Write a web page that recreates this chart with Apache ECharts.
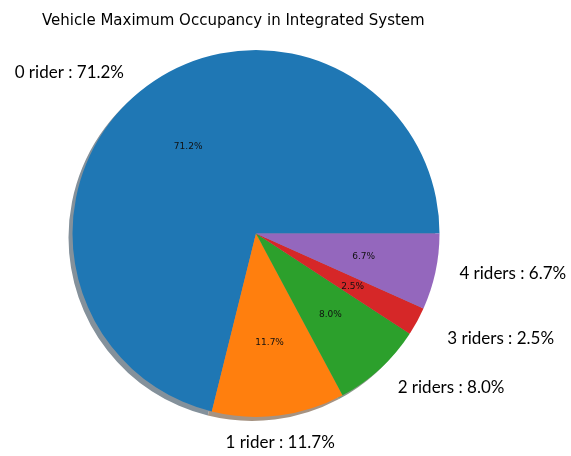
<!DOCTYPE html>
<html><head><meta charset="utf-8">
<script src="https://cdn.jsdelivr.net/npm/echarts@6/dist/echarts.min.js"></script>
<style>html,body{margin:0;padding:0;background:#fff}#c{width:571px;height:456px}</style>
</head><body><div id="c"></div>
<script>
const categories = ['0 rider', '1 rider', '2 riders', '3 riders', '4 riders'];
const values = [71.2, 11.7, 8.0, 2.5, 6.7];
const colors = ['#1f77b4', '#ff7f0e', '#2ca02c', '#d62728', '#9467bd'];
const titleText = 'Vehicle Maximum Occupancy in Integrated System';

// layout (not data): pie geometry and small text nudges
const CX = 256, CY = 233.5, R = 183.5, SH = 4;
const nudge = [[-2, 5], [-2, 0], [-1, -1], [6, 4], [-3, -4]];

const total = values.reduce((a, b) => a + b, 0);
const mids = []; let acc = 0;
values.forEach(v => { mids.push((acc + v / 2) / total * 2 * Math.PI); acc += v; });
function shade(hex) {
  const n = parseInt(hex.slice(1), 16);
  const rgb = [n >> 16, (n >> 8) & 255, n & 255].map(c => Math.round(0.5 * 0.3 * c + 0.5 * 255));
  return 'rgb(' + rgb.join(',') + ')';
}
const data = categories.map((c, i) => ({ name: c, value: values[i], itemStyle: { color: colors[i] } }));
const shadowData = categories.map((c, i) => ({ name: c, value: values[i], itemStyle: { color: shade(colors[i]) } }));
const common = { type: 'pie', radius: R, startAngle: 0, clockwise: false, silent: true,
  avoidLabelOverlap: false, labelLine: { show: false }, emphasis: { disabled: true } };

const chart = echarts.init(document.getElementById('c'), null, { renderer: 'canvas' });
chart.setOption({
  animation: false,
  title: { text: titleText, left: 37, top: 9,
    textStyle: { fontFamily: 'DejaVu Sans', fontSize: 15, fontWeight: 'normal', color: '#000' } },
  series: [
    Object.assign({}, common, { center: [CX - SH, CY + SH], data: shadowData, label: { show: false },
      itemStyle: { borderWidth: 0 } }),
    Object.assign({}, common, { center: [CX, CY], data: data, itemStyle: { borderWidth: 0 },
      label: { show: true, position: 'outside', color: '#000', fontFamily: 'Lato', fontSize: 17,
        formatter: p => p.name + ' : ' + p.value.toFixed(1) + '%' },
      labelLayout: p => {
        const i = p.dataIndex, a = mids[i], c = Math.cos(a), s = Math.sin(a), d = 1.15 * R;
        return { x: CX + d * c + nudge[i][0], y: CY - d * s + nudge[i][1],
          align: Math.abs(c) < 0.3 ? 'center' : (c > 0 ? 'left' : 'right'), verticalAlign: 'middle' };
      } }),
    Object.assign({}, common, { center: [CX, CY], data: data.map(d => ({ name: d.name, value: d.value })),
      itemStyle: { color: 'rgba(0,0,0,0)', borderWidth: 0 },
      label: { show: true, position: 'inside', color: '#111', fontFamily: 'DejaVu Sans', fontSize: 9,
        formatter: p => p.value.toFixed(1) + '%' },
      labelLayout: p => {
        const a = mids[p.dataIndex], d = 0.6 * R;
        return { x: CX + d * Math.cos(a), y: CY - d * Math.sin(a), align: 'center', verticalAlign: 'middle' };
      } })
  ]
});
</script></body></html>
